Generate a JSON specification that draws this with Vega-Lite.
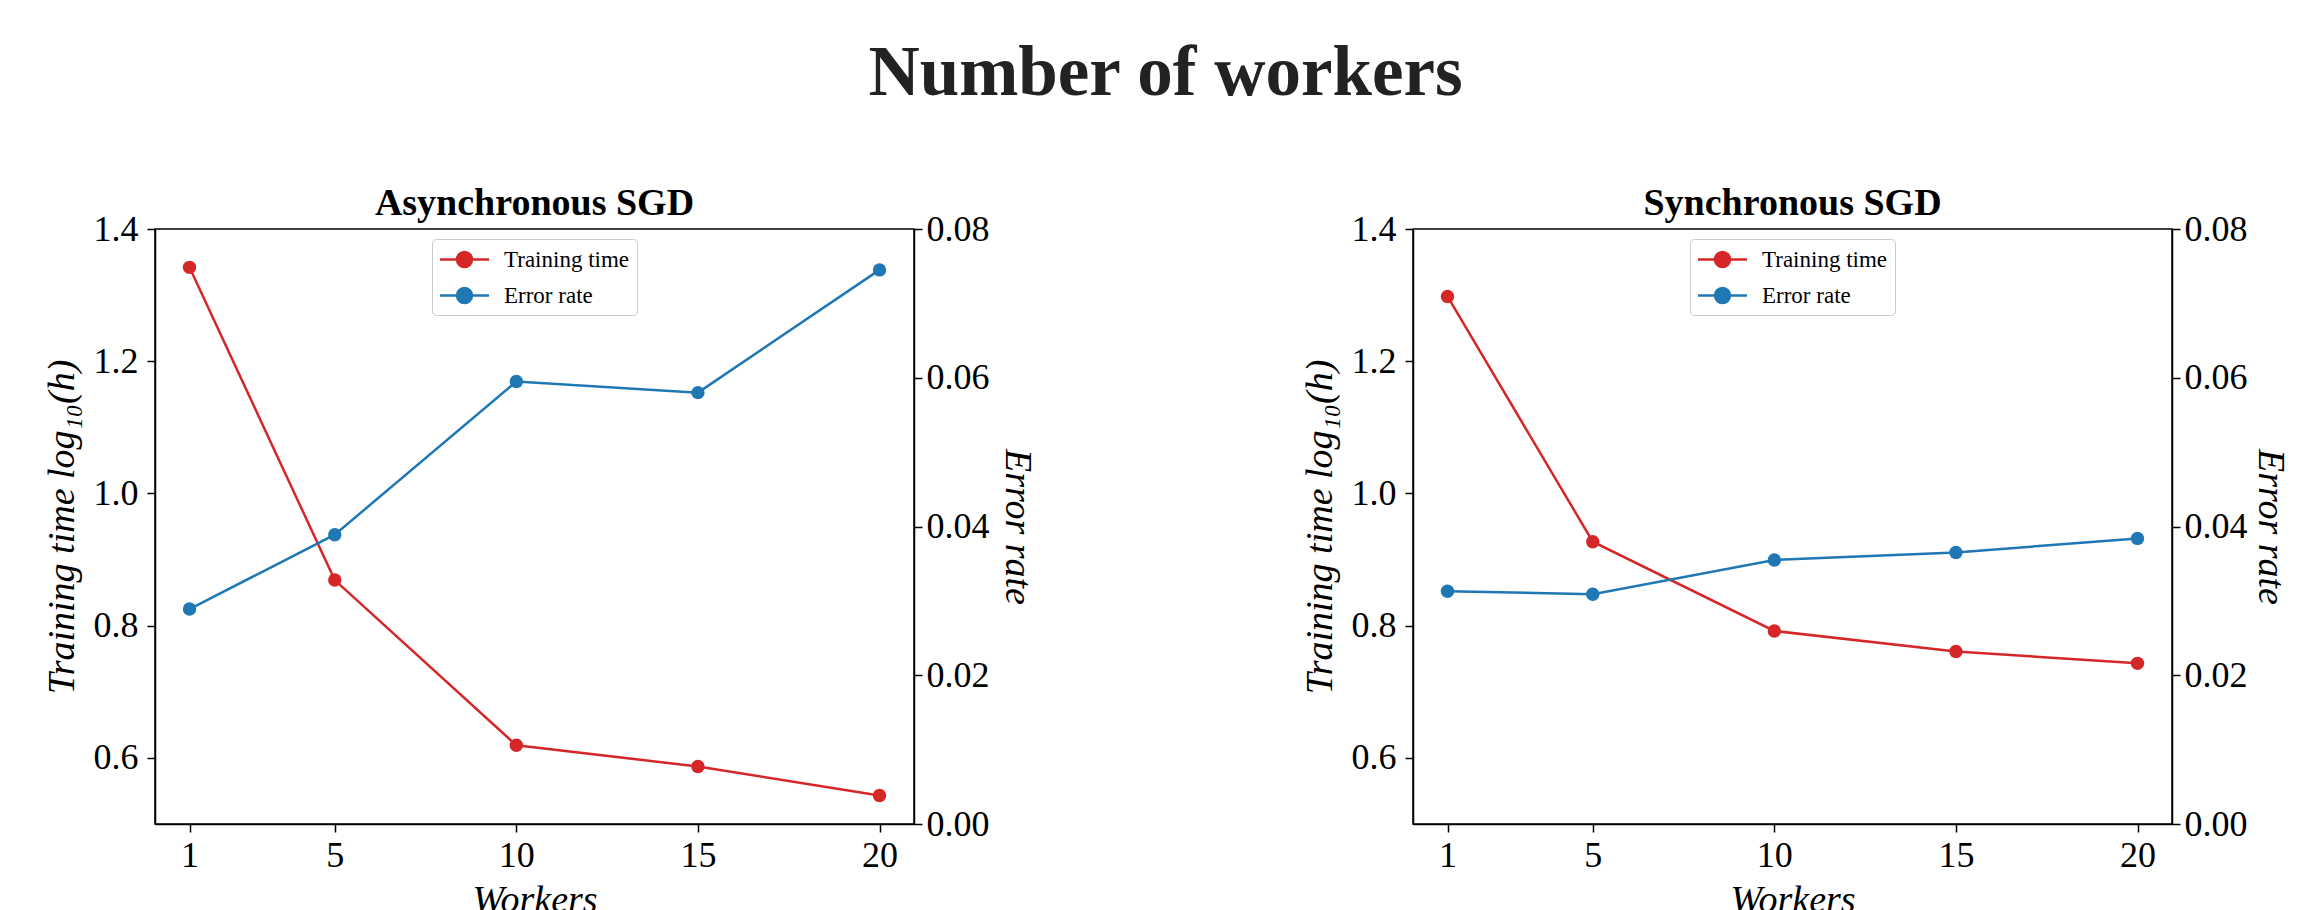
{
  "$schema": "https://vega.github.io/schema/vega-lite/v6.json",
  "background": "white",
  "padding": {"left": 42, "top": 38, "right": 15, "bottom": 0},
  "title": {"text": "Number of workers", "font": "Liberation Serif", "fontSize": 71, "fontWeight": "bold", "color": "#222222", "anchor": "middle", "offset": 74},
  "datasets": {
    "async": [
      {"workers": 1, "time": 1.342, "error": 0.0289},
      {"workers": 5, "time": 0.869, "error": 0.0389},
      {"workers": 10, "time": 0.619, "error": 0.0595},
      {"workers": 15, "time": 0.587, "error": 0.058},
      {"workers": 20, "time": 0.543, "error": 0.0745}
    ],
    "sync": [
      {"workers": 1, "time": 1.298, "error": 0.0313},
      {"workers": 5, "time": 0.927, "error": 0.0309},
      {"workers": 10, "time": 0.792, "error": 0.0355},
      {"workers": 15, "time": 0.761, "error": 0.0365},
      {"workers": 20, "time": 0.743, "error": 0.0384}
    ]
  },
  "config": {
    "view": {"stroke": "black", "strokeWidth": 1.5},
    "axis": {"grid": false, "domainColor": "black", "domainWidth": 1.5, "tickColor": "black", "tickSize": 8, "tickWidth": 1.5, "labelFont": "Liberation Serif", "labelFontSize": 36, "labelColor": "black", "labelPadding": 4, "titleFont": "Liberation Serif", "titleFontSize": 38, "titleFontStyle": "italic", "titleFontWeight": "normal", "titleColor": "black"},
    "legend": {"orient": "none", "legendX": 277, "legendY": 10, "title": null, "symbolType": "M-2,0H2M-0.61,0A0.61,0.61 0 1,0 0.61,0A0.61,0.61 0 1,0 -0.61,0", "symbolSize": 600, "symbolOffset": 12, "symbolStrokeWidth": 2.5, "labelFont": "Liberation Serif", "labelFontSize": 23, "labelColor": "black", "strokeColor": "#cccccc", "fillColor": "white", "padding": 7, "cornerRadius": 4, "rowPadding": 10, "labelOffset": 26}
  },
  "spacing": 264,
  "resolve": {"legend": {"color": "independent"}},
  "hconcat": [
    {
      "title": {"text": "Asynchronous SGD", "font": "Liberation Serif", "fontSize": 38, "fontWeight": "bold", "color": "black", "offset": -12},
      "width": 759, "height": 595,
      "data": {"name": "async"},
      "encoding": {"x": {"field": "workers", "type": "quantitative", "scale": {"domain": [0.05, 20.95], "nice": false, "zero": false}, "axis": {"values": [1, 5, 10, 15, 20], "title": "Workers", "labelPadding": 6, "titlePadding": 8, "labelFlush": false}}},
      "layer": [
        {"mark": {"type": "line", "strokeWidth": 2.5, "point": {"filled": true, "size": 180}},
         "encoding": {
           "y": {"field": "time", "type": "quantitative", "scale": {"domain": [0.5, 1.4], "nice": false, "zero": false}, "axis": {"values": [0.6, 0.8, 1.0, 1.2, 1.4], "format": ".1f", "title": "Training time log₁₀(h)", "titlePadding": 12, "labelPadding": 9}},
           "color": {"datum": "Training time", "type": "nominal", "scale": {"domain": ["Training time", "Error rate"], "range": ["#d62728", "#1f77b4"]},
             "legend": {"encode": {"symbols": {"update": {"fill": [{"test": "datum.value === 'Training time'", "value": "#d62728"}, {"value": "#1f77b4"}], "stroke": [{"test": "datum.value === 'Training time'", "value": "#d62728"}, {"value": "#1f77b4"}]}}}}}
         }},
        {"mark": {"type": "line", "strokeWidth": 2.5, "point": {"filled": true, "size": 180}},
         "encoding": {
           "y": {"field": "error", "type": "quantitative", "scale": {"domain": [0, 0.08], "nice": false, "zero": false}, "axis": {"orient": "right", "values": [0, 0.02, 0.04, 0.06, 0.08], "format": ".2f", "title": "Error rate", "titlePadding": 8}},
           "color": {"datum": "Error rate", "type": "nominal"}
         }}
      ],
      "resolve": {"scale": {"y": "independent"}}
    },
    {
      "title": {"text": "Synchronous SGD", "font": "Liberation Serif", "fontSize": 38, "fontWeight": "bold", "color": "black", "offset": -12},
      "width": 759, "height": 595,
      "data": {"name": "sync"},
      "encoding": {"x": {"field": "workers", "type": "quantitative", "scale": {"domain": [0.05, 20.95], "nice": false, "zero": false}, "axis": {"values": [1, 5, 10, 15, 20], "title": "Workers", "labelPadding": 6, "titlePadding": 8, "labelFlush": false}}},
      "layer": [
        {"mark": {"type": "line", "strokeWidth": 2.5, "point": {"filled": true, "size": 180}},
         "encoding": {
           "y": {"field": "time", "type": "quantitative", "scale": {"domain": [0.5, 1.4], "nice": false, "zero": false}, "axis": {"values": [0.6, 0.8, 1.0, 1.2, 1.4], "format": ".1f", "title": "Training time log₁₀(h)", "titlePadding": 12, "labelPadding": 9}},
           "color": {"datum": "Training time", "type": "nominal", "scale": {"domain": ["Training time", "Error rate"], "range": ["#d62728", "#1f77b4"]},
             "legend": {"encode": {"symbols": {"update": {"fill": [{"test": "datum.value === 'Training time'", "value": "#d62728"}, {"value": "#1f77b4"}], "stroke": [{"test": "datum.value === 'Training time'", "value": "#d62728"}, {"value": "#1f77b4"}]}}}}}
         }},
        {"mark": {"type": "line", "strokeWidth": 2.5, "point": {"filled": true, "size": 180}},
         "encoding": {
           "y": {"field": "error", "type": "quantitative", "scale": {"domain": [0, 0.08], "nice": false, "zero": false}, "axis": {"orient": "right", "values": [0, 0.02, 0.04, 0.06, 0.08], "format": ".2f", "title": "Error rate", "titlePadding": 3}},
           "color": {"datum": "Error rate", "type": "nominal"}
         }}
      ],
      "resolve": {"scale": {"y": "independent"}}
    }
  ]
}
